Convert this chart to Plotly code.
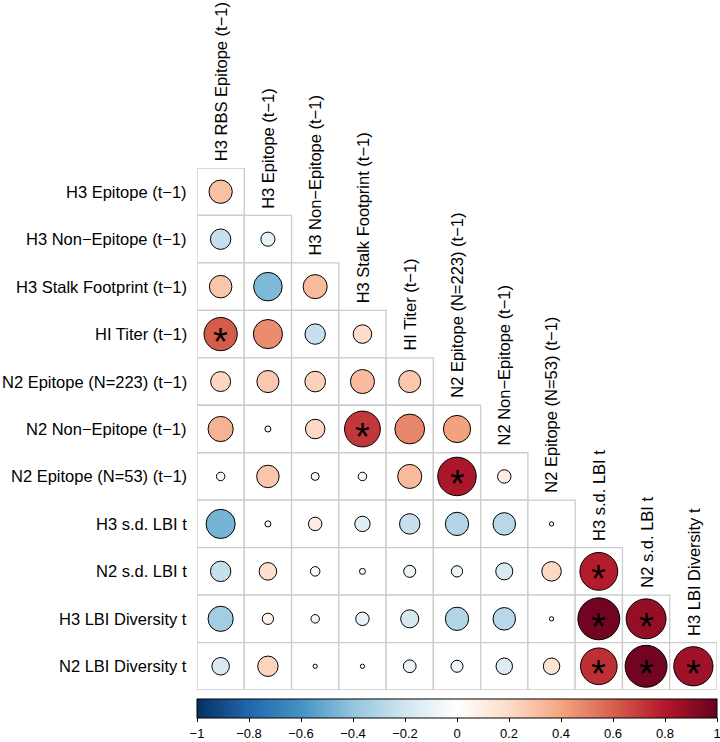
import numpy as np
import plotly.graph_objects as go

# row / column labels of the lower-triangle correlation matrix
row_labels = [
    "H3 Epitope (t−1)",
    "H3 Non−Epitope (t−1)",
    "H3 Stalk Footprint (t−1)",
    "HI Titer (t−1)",
    "N2 Epitope (N=223) (t−1)",
    "N2 Non−Epitope (t−1)",
    "N2 Epitope (N=53) (t−1)",
    "H3 s.d. LBI t",
    "N2 s.d. LBI t",
    "H3 LBI Diversity t",
    "N2 LBI Diversity t",
]
col_labels = [
    "H3 RBS Epitope (t−1)",
    "H3 Epitope (t−1)",
    "H3 Non−Epitope (t−1)",
    "H3 Stalk Footprint (t−1)",
    "HI Titer (t−1)",
    "N2 Epitope (N=223) (t−1)",
    "N2 Non−Epitope (t−1)",
    "N2 Epitope (N=53) (t−1)",
    "H3 s.d. LBI t",
    "N2 s.d. LBI t",
    "H3 LBI Diversity t",
]

# correlations, one list per row (row i has i+1 entries)
r_h3_epi = [0.30]
r_h3_nonepi = [-0.23, -0.11]
r_h3_stalk = [0.28, -0.45, 0.32]
r_hi = [0.61, 0.47, -0.23, 0.19]
r_n2_epi223 = [0.22, 0.27, 0.235, 0.32, 0.27]
r_n2_nonepi = [0.35, 0.02, 0.21, 0.71, 0.49, 0.41]
r_n2_epi53 = [-0.04, 0.28, -0.035, -0.04, 0.32, 0.82, 0.10]
r_h3_sd = [-0.47, -0.02, 0.10, -0.13, -0.23, -0.30, -0.28, -0.01]
r_n2_sd = [-0.23, 0.17, -0.05, -0.02, -0.08, -0.07, -0.16, 0.21, 0.79]
r_h3_div = [-0.35, 0.07, -0.04, -0.10, -0.18, -0.30, -0.28, -0.01, 0.97, 0.88]
r_n2_div = [-0.17, 0.23, -0.01, -0.01, -0.09, -0.08, -0.15, 0.15, 0.74, 0.97, 0.85]

corr_rows = [r_h3_epi, r_h3_nonepi, r_h3_stalk, r_hi, r_n2_epi223, r_n2_nonepi,
             r_n2_epi53, r_h3_sd, r_n2_sd, r_h3_div, r_n2_div]

# significant cells (row index, col index), 1-based
sig_cells = [(4, 1), (6, 4), (7, 6), (9, 9), (10, 9), (10, 10), (11, 9), (11, 10), (11, 11)]

# colorbar ticks
cbar_ticks = [-1, -0.8, -0.6, -0.4, -0.2, 0, 0.2, 0.4, 0.6, 0.8, 1]

# RdBu palette as used by corrplot
rdbu = ["#053061", "#2166AC", "#4393C3", "#92C5DE", "#D1E5F0", "#FFFFFF",
        "#FDDBC7", "#F4A582", "#D6604D", "#B2182B", "#67001F"]
colorscale = [[i / 10, c] for i, c in enumerate(rdbu)]

W, H = 720, 742
ml, mr, mt, mb = 197, 3, 168, 52
n = len(row_labels)
cell = (W - ml - mr) / n

xs, ys, vals = [], [], []
for i, row in enumerate(corr_rows, start=1):
    for j, v in enumerate(row, start=1):
        xs.append(j)
        ys.append(i)
        vals.append(v)
vals = np.array(vals)
sizes = 0.9 * cell * np.sqrt(np.abs(vals))

fig = go.Figure()

# grid cells
for i in range(1, n + 1):
    for j in range(1, i + 1):
        fig.add_shape(type="rect", x0=j - 0.5, x1=j + 0.5, y0=i - 0.5, y1=i + 0.5,
                      line=dict(color="#cccccc", width=1.3), fillcolor="white", layer="below")

fig.add_trace(go.Scatter(
    x=xs, y=ys, mode="markers", hoverinfo="skip",
    marker=dict(
        size=sizes, color=vals, colorscale=colorscale, cmin=-1, cmax=1,
        line=dict(color="black", width=1), opacity=1,
        showscale=True,
        colorbar=dict(
            orientation="h", x=0.5, xanchor="center", y=-0.017, yanchor="top",
            len=1, thickness=19, xpad=0, ypad=0,
            outlinecolor="black", outlinewidth=1,
            tickvals=cbar_ticks, ticks="outside", ticklen=4, tickcolor="black",
            ticklabeloverflow="allow",
            tickfont=dict(family="Liberation Sans, Arial", size=13, color="black"),
        ),
    ),
))

annotations = []
for (i, j) in sig_cells:
    annotations.append(dict(x=j, y=i, xref="x", yref="y", text="*", showarrow=False,
                            font=dict(family="Liberation Sans, Arial", size=38, color="black"),
                            yshift=-8))

for i, lab in enumerate(row_labels, start=1):
    annotations.append(dict(x=0, y=i, xref="paper", yref="y", text=lab, showarrow=False,
                            xanchor="right", yanchor="middle", xshift=-8,
                            font=dict(family="Liberation Sans, Arial", size=16.5, color="black")))

for j, lab in enumerate(col_labels, start=1):
    annotations.append(dict(x=j, y=j - 0.5, xref="x", yref="y", text=lab, showarrow=False,
                            textangle=-90, xanchor="center", yanchor="bottom", yshift=5,
                            font=dict(family="Liberation Sans, Arial", size=16.5, color="black")))

fig.update_layout(
    width=W, height=H,
    margin=dict(l=ml, r=mr, t=mt, b=mb, autoexpand=False),
    plot_bgcolor="white", paper_bgcolor="white",
    showlegend=False,
    annotations=annotations,
    xaxis=dict(range=[0.5, n + 0.5], visible=False, fixedrange=True),
    yaxis=dict(range=[n + 0.5, 0.5], visible=False, fixedrange=True),
)

# drop the default page margin so the figure sits at the window's corner
fig.write_html("out.html", config={"displayModeBar": False},
               post_script="document.body.style.margin='0px';document.body.style.overflow='hidden';")
